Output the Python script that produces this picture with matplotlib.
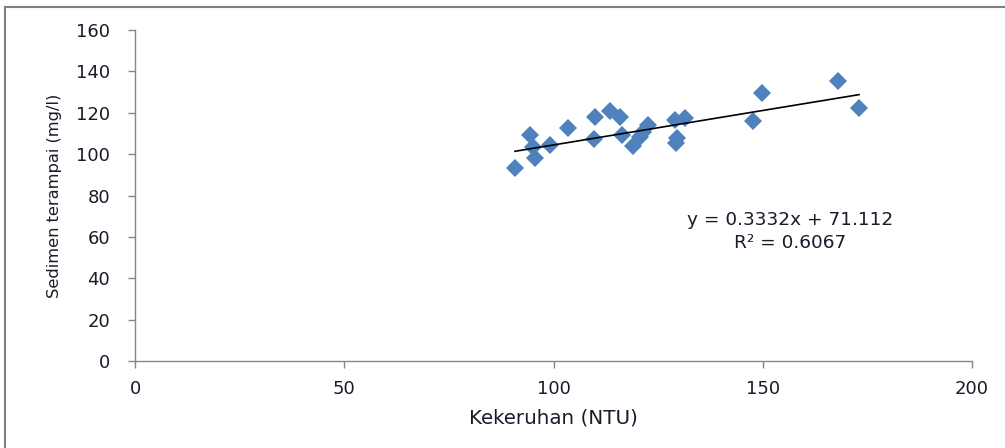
import numpy as np
import matplotlib
matplotlib.use("Agg")
import matplotlib.pyplot as plt
from matplotlib.lines import Line2D

plt.rcParams["font.family"] = ["DejaVu Sans"]

# kekeruhan (NTU) vs sedimen terampai (mg/l)
kekeruhan = [90.8, 94.4, 95.1, 95.6, 99.2, 103.5, 109.7, 109.9, 113.6, 116.0,
             116.4, 119.0, 120.7, 121.4, 122.6, 129.0, 131.4, 129.5, 129.3,
             147.7, 149.8, 168.0, 173.0]
sedimen = [93.3, 109.2, 103.4, 98.1, 104.4, 112.6, 107.3, 117.9, 120.8, 117.9,
           109.2, 103.9, 108.3, 110.7, 114.1, 116.5, 117.4, 107.8, 105.4,
           116.0, 129.5, 135.3, 122.3]

slope = 0.3332
intercept = 71.112
r2 = 0.6067

txt = "#1a1a2a"

fig = plt.figure(figsize=(10.05, 4.48), dpi=100)
ax = fig.add_axes([135 / 1005, 1 - 361 / 448, (972 - 135) / 1005, (361 - 30) / 448])

ax.plot(kekeruhan, sedimen, linestyle="none", marker="D", markersize=9.3,
        color="#4F81BD", markeredgewidth=0, zorder=2)

xs = np.array([min(kekeruhan), max(kekeruhan)])
ax.plot(xs, slope * xs + intercept, color="black", linewidth=1.2, zorder=3)

ax.text(156.5, 62.8, f"y = {slope}x + {intercept}\nR² = {r2}", ha="center",
        va="center", multialignment="center", fontsize=13.3, color=txt,
        linespacing=1.35)

ax.set_xlim(0, 200)
ax.set_ylim(0, 160)
ax.set_xticks(range(0, 201, 50))
ax.set_yticks(range(0, 161, 20))

for side in ["top", "right"]:
    ax.spines[side].set_visible(False)
for side in ["left", "bottom"]:
    ax.spines[side].set_color("#868686")
    ax.spines[side].set_linewidth(1)
ax.tick_params(direction="out", length=5, width=1, color="#868686",
               labelsize=13, labelcolor=txt)
ax.tick_params(axis="y", pad=13)
ax.tick_params(axis="x", pad=9)

ax.set_xlabel("Kekeruhan (NTU)", fontsize=14.3, color=txt, labelpad=7)
ax.set_ylabel("Sedimen terampai (mg/l)", fontsize=11.7, color=txt, labelpad=10)

# chart area frame
fig.add_artist(Line2D([0.005, 1.0], [1 - 7 / 448, 1 - 7 / 448], transform=fig.transFigure,
                      color="#808080", linewidth=1.5))
fig.add_artist(Line2D([0.005, 0.005], [0.0, 1 - 7 / 448], transform=fig.transFigure,
                      color="#808080", linewidth=1.5))

fig.savefig("out.png", dpi=100)
